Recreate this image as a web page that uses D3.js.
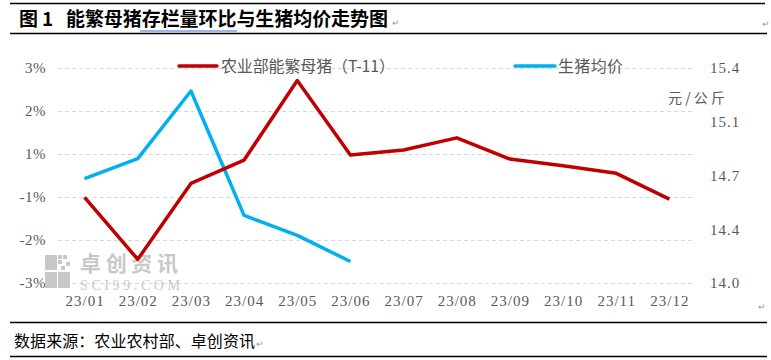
<!DOCTYPE html>
<html>
<head>
<meta charset="utf-8">
<script src="https://cdn.jsdelivr.net/npm/d3@7"></script>
<style>
html,body{margin:0;padding:0;background:#fff;}
svg{display:block;}
</style>
</head>
<body>
<svg id="chart" width="771" height="360"></svg>
<script>
const months = ["23/01","23/02","23/03","23/04","23/05","23/06","23/07","23/08","23/09","23/10","23/11","23/12"];
const sowChange = [-0.61,-2.34,-0.22,0.43,2.65,0.57,0.71,1.05,0.46,0.27,0.06,-0.66];
const hogPrice = [14.68,14.81,15.25,14.44,14.31,14.14];
const leftTicks = [3,1.8,0.6,-0.6,-1.8,-3];
const leftTickLabels = ["3%","2%","1%","-1%","-2%","-3%"];
const rightTicks = [15.4,15.05,14.7,14.35,14.0];
const rightTickLabels = ["15.4","15.1","14.7","14.4","14.0"];
const seriesNames = ["农业部能繁母猪（T-11）","生猪均价"];
const titleParts = ["图","1","能繁母猪存栏量环比与生猪均价走势图"];
const sourceText = "数据来源：农业农村部、卓创资讯";
const unitText = "元/公斤";

const svg = d3.select("#chart");
const cjk = "'Noto Sans CJK SC','Noto Sans',sans-serif";
const latin = "'Liberation Serif','DejaVu Serif',serif";
const red = "#c00000", blue = "#00b0f0", grey = "#595959";

const x = d3.scalePoint().domain(months).range([58,696]).padding(0.5);
const yL = d3.scaleLinear().domain([-3,3]).range([283,68]);
const yR = d3.scaleLinear().domain([14.0,15.4]).range([283,68]);

// title block
svg.append("line").attr("x1",10).attr("x2",765).attr("y1",3.5).attr("y2",3.5).attr("stroke","#000").attr("stroke-width",1.5);
svg.append("line").attr("x1",10).attr("x2",767).attr("y1",33.5).attr("y2",33.5).attr("stroke","#000").attr("stroke-width",1.5);
const tStyle = s => s.attr("font-family",cjk).attr("font-weight","bold").attr("font-size",19).attr("fill","#000");
svg.append("text").attr("x",19).attr("y",26).call(tStyle).text(titleParts[0]);
svg.append("text").attr("x",42).attr("y",26).call(tStyle).text(titleParts[1]);
svg.append("text").attr("x",66).attr("y",26).call(tStyle).attr("textLength",322).text(titleParts[2]);
svg.append("line").attr("x1",140).attr("x2",237).attr("y1",31).attr("y2",31).attr("stroke","#3b6fd6").attr("stroke-width",1.2);
svg.append("text").attr("x",392).attr("y",26).attr("font-family",cjk).attr("font-size",9).attr("fill","#999").text("↵");

// gridlines
svg.append("g").selectAll("line").data(leftTicks).join("line")
  .attr("x1",58).attr("x2",693)
  .attr("y1",d=>Math.round(yL(d))+0.5).attr("y2",d=>Math.round(yL(d))+0.5)
  .attr("stroke","#d9d9d9").attr("stroke-width",1).attr("stroke-dasharray","4,3");

// left axis
const gL = svg.append("g").attr("transform","translate(46,0)")
  .call(d3.axisLeft(yL).tickValues(leftTicks).tickSize(0).tickPadding(0).tickFormat((d,i)=>leftTickLabels[i]));
gL.select(".domain").remove();
gL.selectAll("text").attr("font-family",latin).attr("font-size",15).attr("fill",grey).attr("letter-spacing","0.5px");

// right axis
const gR = svg.append("g").attr("transform","translate(710,0)")
  .call(d3.axisRight(yR).tickValues(rightTicks).tickSize(0).tickPadding(0).tickFormat((d,i)=>rightTickLabels[i]));
gR.select(".domain").remove();
gR.selectAll("text").attr("font-family",latin).attr("font-size",15).attr("fill",grey).attr("letter-spacing","1px");

svg.append("text").attr("x",668).attr("y",103).attr("font-family",cjk).attr("font-size",14).attr("fill",grey).attr("textLength",57).text(unitText);

// x axis
const gX = svg.append("g").attr("transform","translate(0,295)")
  .call(d3.axisBottom(x).tickSize(0).tickPadding(0));
gX.select(".domain").remove();
gX.selectAll("text").attr("font-family",latin).attr("font-size",15).attr("fill",grey).attr("letter-spacing","1px").attr("dy","0.71em");

// watermark
const wm = svg.append("g").attr("fill","#c8c8c8");
[[45,255,12,15],[58,255,4,4],[63,255,4,4],[58,260,4,4],[66,262,4,4],[61,266,4,4],[45,272,12,16],[58,272,12,16]].forEach(r=>{
  wm.append("rect").attr("x",r[0]).attr("y",r[1]).attr("width",r[2]).attr("height",r[3]);
});
wm.append("text").attr("x",80).attr("y",271).attr("font-family",cjk).attr("font-weight","bold").attr("font-size",21).attr("textLength",98).text("卓创资讯");
wm.append("text").attr("x",80).attr("y",290).attr("font-family",latin).attr("font-size",14).attr("textLength",100).text("SCI99.COM");

// lines
const lineL = d3.line().x((d,i)=>x(months[i])).y(d=>yL(d));
const lineR = d3.line().x((d,i)=>x(months[i])).y(d=>yR(d));
svg.append("path").datum(hogPrice).attr("d",lineR).attr("fill","none").attr("stroke",blue).attr("stroke-width",3.5).attr("stroke-linejoin","round");
svg.append("path").datum(sowChange).attr("d",lineL).attr("fill","none").attr("stroke",red).attr("stroke-width",3.5).attr("stroke-linejoin","round");

// legend
const legend = [{c:red,x1:179,x2:217,tx:221,w:174,name:seriesNames[0]},{c:blue,x1:515,x2:555,tx:558,w:65,name:seriesNames[1]}];
legend.forEach(l=>{
  svg.append("line").attr("x1",l.x1).attr("x2",l.x2).attr("y1",66).attr("y2",66).attr("stroke",l.c).attr("stroke-width",3.5).attr("stroke-linecap","round");
  svg.append("text").attr("x",l.tx).attr("y",72).attr("font-family",cjk).attr("font-size",16).attr("fill",grey).attr("textLength",l.w).text(l.name);
});

// misc paragraph marks
svg.append("text").attr("x",762).attr("y",27).attr("font-family",cjk).attr("font-size",9).attr("fill","#999").text("↵");
svg.append("text").attr("x",758).attr("y",310).attr("font-family",cjk).attr("font-size",9).attr("fill","#999").text("↵");

// footer
svg.append("line").attr("x1",10).attr("x2",767).attr("y1",322.5).attr("y2",322.5).attr("stroke","#000").attr("stroke-width",1.5);
svg.append("line").attr("x1",10).attr("x2",767).attr("y1",356.5).attr("y2",356.5).attr("stroke","#000").attr("stroke-width",1.5);
svg.append("text").attr("x",14).attr("y",347).attr("font-family",cjk).attr("font-size",16).attr("fill","#000").attr("textLength",241).text(sourceText);
svg.append("text").attr("x",256).attr("y",347).attr("font-family",cjk).attr("font-size",9).attr("fill","#999").text("↵");
</script>
</body>
</html>
